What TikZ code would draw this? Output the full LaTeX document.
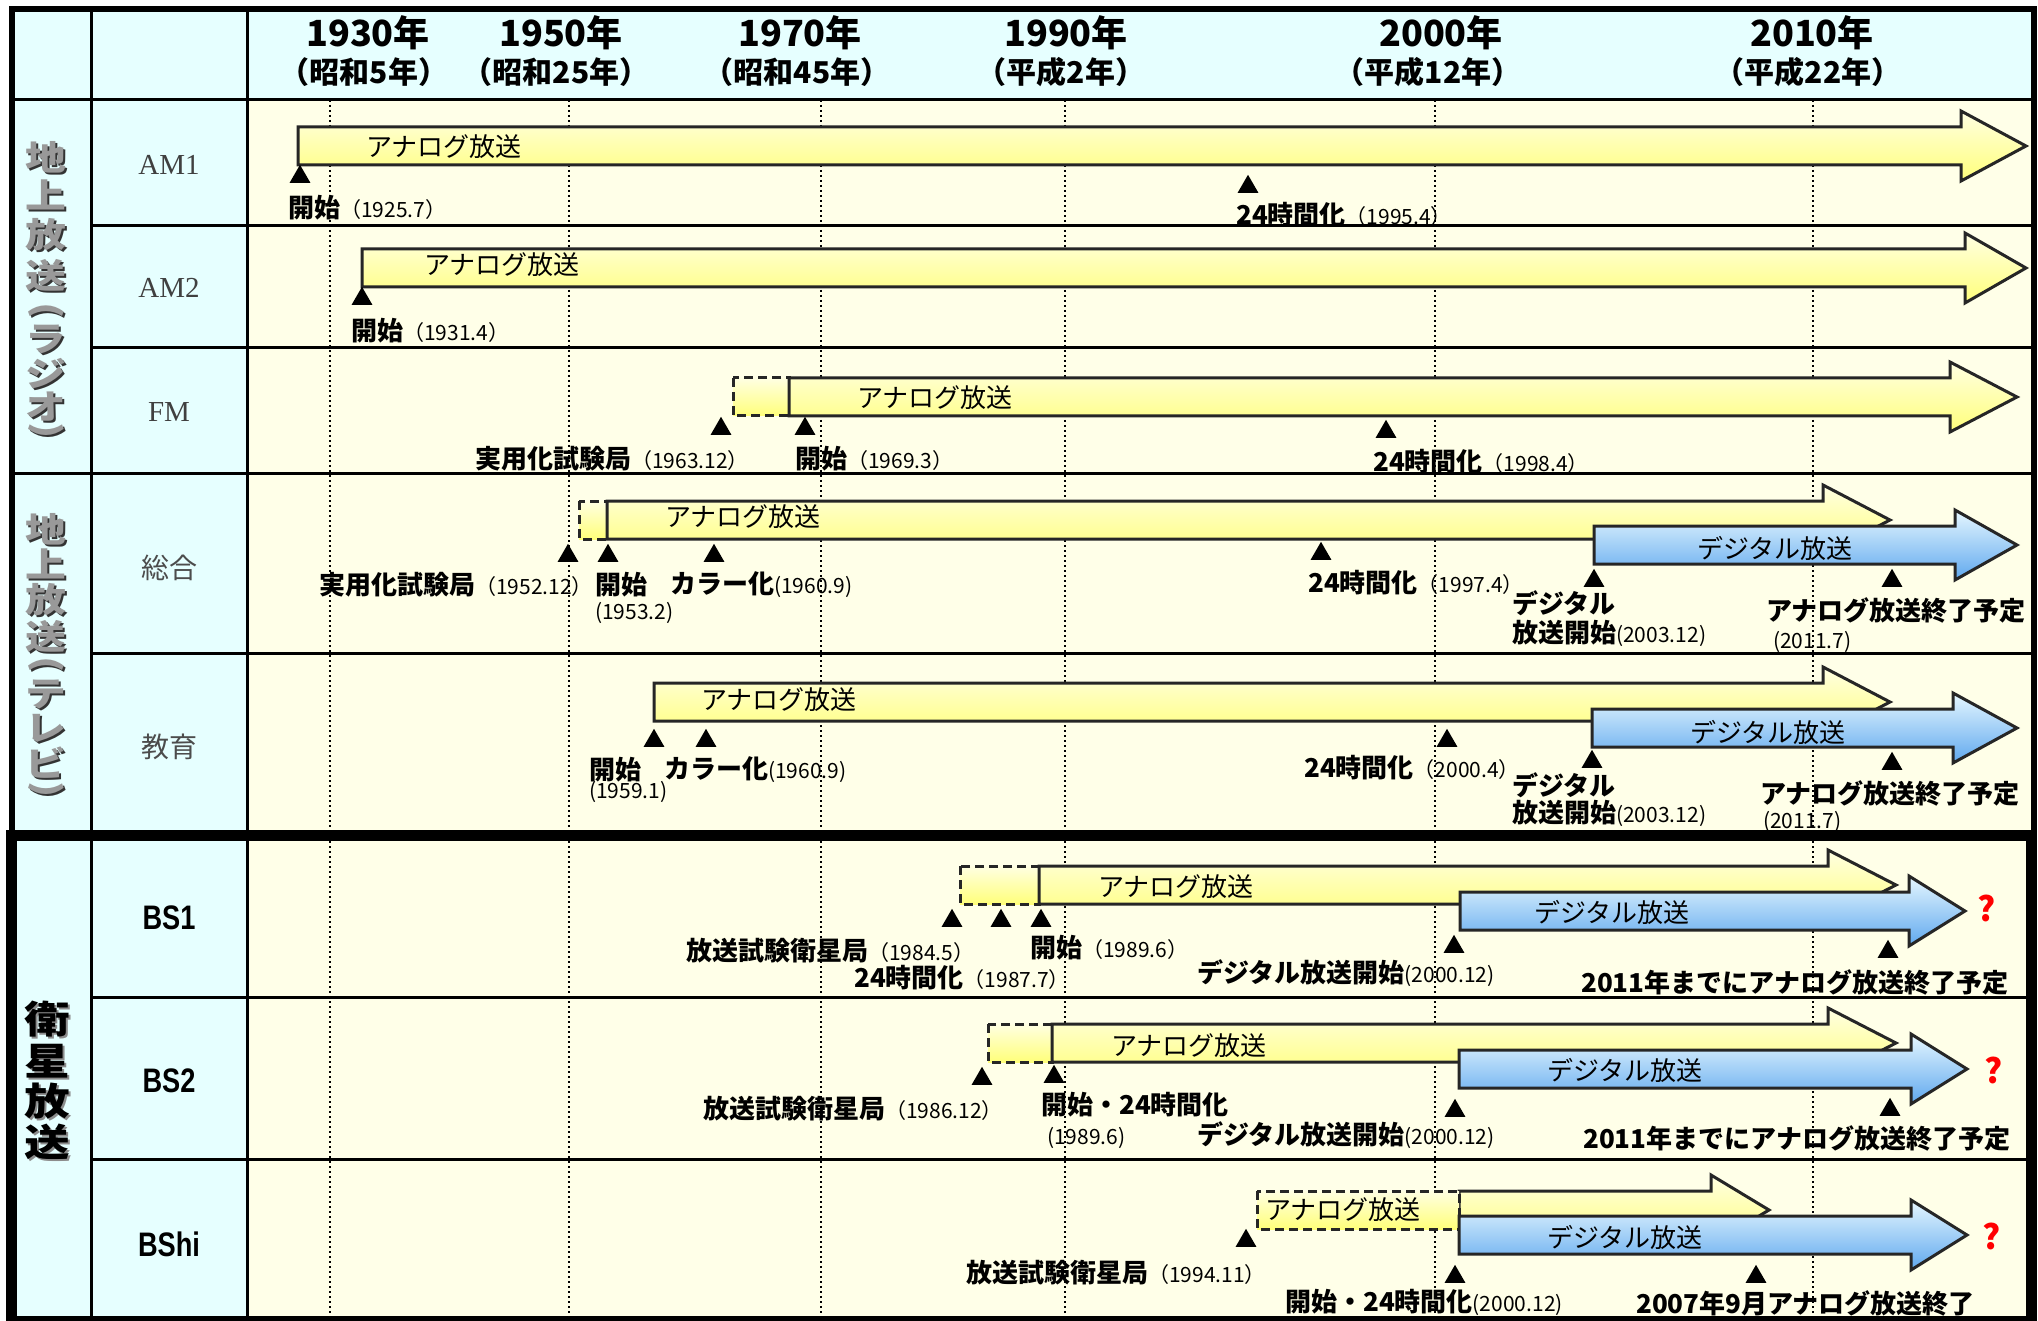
\documentclass[tikz,border=0pt]{standalone}
\usepackage{fontspec}
\usetikzlibrary{shapes.geometric}
\setmainfont{Noto Sans CJK JP}
\newfontfamily\wjp[FakeStretch=1.2]{Noto Sans CJK JP}
\newfontfamily\tms{Liberation Serif}
\newfontfamily\arn[FakeStretch=0.8]{Liberation Sans}
\definecolor{cell}{HTML}{E6FFFF}
\definecolor{cream}{HTML}{FFFFE8}
\definecolor{ylwA}{HTML}{FFFFE2}
\definecolor{ylwB}{HTML}{FFFF7A}
\definecolor{bluA}{HTML}{E6F7FF}
\definecolor{bluB}{HTML}{5FA8EE}
\newcommand{\lpar}{(}
\newcommand{\rpar}{)}
\newcommand{\dat}[1]{{\mdseries\fontsize{21}{24}\selectfont #1}}
\newcommand{\flow}[5]{\draw[#5] (#1,#4-19) -- (#2,#4-19) -- (#2,#4-35) -- (#3,#4) -- (#2,#4+35) -- (#2,#4+19) -- (#1,#4+19) -- cycle;}
\begin{document}
\begin{tikzpicture}[x=1pt,y=-1pt,
    lbl/.style={anchor=west,inner sep=0pt,font=\fontsize{26}{30}\selectfont\bfseries},
    tri/.style={regular polygon,regular polygon sides=3,fill=black,inner sep=0pt,minimum size=24pt,anchor=south},
    yflow/.style={line width=3pt,draw=black!85,top color=ylwA,bottom color=ylwB},
    bflow/.style={line width=3pt,draw=black!85,top color=bluA,bottom color=bluB},
    dbox/.style={line width=3pt,draw=black!85,dash pattern=on 9pt off 5pt,top color=ylwA,bottom color=ylwB},
    yearline/.style={line width=1.5pt,dash pattern=on 2pt off 3pt},
    rule/.style={line width=3pt},
    yr/.style={font=\fontsize{36}{40}\selectfont\bfseries},
    era/.style={font=\fontsize{30}{32}\selectfont\bfseries},
    inarrow/.style={inner sep=0pt,font=\fontsize{26}{30}\selectfont},
    rowtm/.style={text=black!75,font=\tms\fontsize{29}{30}\selectfont},
    rowjp/.style={text=black!70,font=\fontsize{28}{30}\selectfont},
    rowbs/.style={font=\arn\fontsize{34}{36}\selectfont\bfseries},
    vtxt/.style={font=\wjp\fontsize{34}{34}\selectfont\bfseries,inner sep=0pt},
    qm/.style={text=red,font=\fontsize{34}{34}\selectfont\bfseries}]
\useasboundingbox (0,0) rectangle (2038,1321);
\fill[cream] (12,9) rectangle (2034,1321);
\fill[cell] (12,9) rectangle (247,1321);
\fill[cell] (247,9) rectangle (2034,100);
\foreach \x in {330,569,821,1065,1435,1813} {
  \draw[yearline] (\x,100) -- (\x,829);
  \draw[yearline] (\x,841) -- (\x,1321);
}
\draw[rule] (12,100) -- (2034,100);
\draw[rule] (12,473) -- (2034,473);
\foreach \y in {226,348,653,997,1159} \draw[rule] (91,\y) -- (2034,\y);
\draw[rule] (91,9) -- (91,1321);
\draw[rule] (247,9) -- (247,1321);

\node[yr] (y1930) at (368,33) {1930年};
\node[era] (e1930) at (364,72) {（昭和5年）};
\node[yr] (y1950) at (561,33) {1950年};
\node[era] (e1950) at (556,72) {（昭和25年）};
\node[yr] (y1970) at (800,33) {1970年};
\node[era] (e1970) at (797,72) {（昭和45年）};
\node[yr] (y1990) at (1066,33) {1990年};
\node[era] (e1990) at (1061,72) {（平成2年）};
\node[yr] (y2000) at (1441,33) {2000年};
\node[era] (e2000) at (1428,72) {（平成12年）};
\node[yr] (y2010) at (1812,33) {2010年};
\node[era] (e2010) at (1808,72) {（平成22年）};

\foreach \c/\y/\r [count=\i] in {地/157/0,上/195/0,放/235/0,送/275/0,\lpar/311/-90,ラ/339/0,ジ/374/0,オ/407/0,\rpar/431/-90} {
  \node[vtxt,text=black!80,rotate=\r] at (48,\y+2) {\c};
  \node[vtxt,text=black!40,rotate=\r] (radio\i) at (46,\y) {\c};
}
\foreach \c/\y/\r [count=\i] in {地/529/0,上/564/0,放/600/0,送/636/0,\lpar/665/-90,テ/694/0,レ/728/0,ビ/763/0,\rpar/790/-90} {
  \node[vtxt,text=black!80,rotate=\r] at (48,\y+2) {\c};
  \node[vtxt,text=black!40,rotate=\r] (tv\i) at (46,\y) {\c};
}
\foreach \c/\y [count=\i] in {衛/1019,星/1061,放/1101,送/1142} {
  \node[vtxt,font=\wjp\fontsize{38}{38}\selectfont\bfseries,text=black!45] at (49,\y+2) {\c};
  \node[vtxt,font=\wjp\fontsize{38}{38}\selectfont\bfseries] (sat\i) at (47,\y) {\c};
}

\node[rowtm] (am1) at (169,165) {AM1};
\node[rowtm] (am2) at (169,288) {AM2};
\node[rowtm] (fm) at (169,412) {FM};
\node[rowjp] (sogo) at (169,568) {総合};
\node[rowjp] (kyoiku) at (169,747) {教育};
\node[rowbs] (bs1) at (169,918) {BS1};
\node[rowbs] (bs2) at (169,1081) {BS2};
\node[rowbs] (bshi) at (169,1244) {BShi};

\flow{298}{1961}{2026}{146}{yflow}
\flow{362}{1965}{2026}{268}{yflow}
\draw[dbox] (733,378) rectangle (789,416);
\flow{789}{1950}{2017}{397}{yflow}
\draw[dbox] (579,501) rectangle (607,539);
\flow{607}{1823}{1890}{520}{yflow}
\flow{1594}{1955}{2017}{545}{bflow}
\flow{654}{1823}{1890}{702}{yflow}
\flow{1592}{1953}{2017}{728}{bflow}
\draw[dbox] (960,866) rectangle (1039,904);
\flow{1039}{1828}{1896}{885}{yflow}
\flow{1460}{1909}{1965}{911}{bflow}
\draw[dbox] (988,1024) rectangle (1052,1062);
\flow{1052}{1828}{1896}{1043}{yflow}
\flow{1459}{1911}{1967}{1069}{bflow}
\flow{1459}{1711}{1769}{1210}{yflow}
\draw[dbox] (1257,1191) rectangle (1459,1229);
\flow{1459}{1911}{1967}{1235}{bflow}

\node[inarrow] (am1ana) at (444,147) {アナログ放送};
\node[inarrow] (am2ana) at (502,265) {アナログ放送};
\node[inarrow] (fmana) at (935,398) {アナログ放送};
\node[inarrow] (sogoana) at (743,517) {アナログ放送};
\node[inarrow] (sogodig) at (1775,548) {デジタル放送};
\node[inarrow] (kyoana) at (779,700) {アナログ放送};
\node[inarrow] (kyodig) at (1768,732) {デジタル放送};
\node[inarrow] (bs1ana) at (1176,887) {アナログ放送};
\node[inarrow] (bs1dig) at (1612,912) {デジタル放送};
\node[inarrow] (bs2ana) at (1189,1046) {アナログ放送};
\node[inarrow] (bs2dig) at (1625,1070) {デジタル放送};
\node[inarrow] (bshiana) at (1343,1210) {アナログ放送};
\node[inarrow] (bshidig) at (1625,1237) {デジタル放送};

\node[tri] (am1t1) at (300,183) {};
\node[tri] (am1t2) at (1248,193) {};
\node[tri] (am2t1) at (362,305) {};
\node[tri] (fmt1) at (721,435) {};
\node[tri] (fmt2) at (805,435) {};
\node[tri] (fmt3) at (1386,438) {};
\node[tri] (sgt1) at (568,562) {};
\node[tri] (sgt2) at (608,562) {};
\node[tri] (sgt3) at (714,562) {};
\node[tri] (sgt4) at (1321,560) {};
\node[tri] (sgt5) at (1594,587) {};
\node[tri] (sgt6) at (1892,587) {};
\node[tri] (kyt1) at (654,747) {};
\node[tri] (kyt2) at (706,747) {};
\node[tri] (kyt3) at (1447,747) {};
\node[tri] (kyt4) at (1592,768) {};
\node[tri] (kyt5) at (1892,770) {};
\node[tri] (b1t1) at (952,927) {};
\node[tri] (b1t2) at (1001,927) {};
\node[tri] (b1t3) at (1041,927) {};
\node[tri] (b1t4) at (1454,953) {};
\node[tri] (b1t5) at (1888,958) {};
\node[tri] (b2t1) at (982,1085) {};
\node[tri] (b2t2) at (1054,1083) {};
\node[tri] (b2t3) at (1455,1117) {};
\node[tri] (b2t4) at (1890,1116) {};
\node[tri] (bht1) at (1246,1247) {};
\node[tri] (bht2) at (1455,1283) {};
\node[tri] (bht3) at (1756,1283) {};

\node[lbl] (am1l1) at (288,208) {開始\dat{（1925.7）}};
\node[lbl] (am1l2) at (1236,215) {24時間化\dat{（1995.4）}};
\node[lbl] (am2l1) at (351,331) {開始\dat{（1931.4）}};
\node[lbl] (fml1) at (475,459) {実用化試験局\dat{（1963.12）}};
\node[lbl] (fml2) at (795,459) {開始\dat{（1969.3）}};
\node[lbl] (fml3) at (1373,462) {24時間化\dat{（1998.4）}};
\node[lbl] (sgl1) at (319,585) {実用化試験局\dat{（1952.12）}};
\node[lbl] (sgl2) at (595,585) {開始};
\node[lbl] (sgl2d) at (595,613) {\dat{(1953.2)}};
\node[lbl] (sgl3) at (670,585) {カラー化\dat{(1960.9)}};
\node[lbl] (sgl4) at (1308,583) {24時間化\dat{（1997.4）}};
\node[lbl] (sgl5) at (1512,603) {デジタル};
\node[lbl] (sgl5b) at (1512,633) {放送開始\dat{(2003.12)}};
\node[lbl] (sgl6) at (1766,610) {アナログ放送終了予定};
\node[lbl] (sgl6d) at (1773,642) {\dat{(2011.7)}};
\node[lbl] (kyl1) at (589,770) {開始};
\node[lbl] (kyl1d) at (589,792) {\dat{(1959.1)}};
\node[lbl] (kyl2) at (664,770) {カラー化\dat{(1960.9)}};
\node[lbl] (kyl3) at (1304,768) {24時間化\dat{（2000.4）}};
\node[lbl] (kyl4) at (1512,785) {デジタル};
\node[lbl] (kyl4b) at (1512,813) {放送開始\dat{(2003.12)}};
\node[lbl] (kyl5) at (1760,793) {アナログ放送終了予定};
\node[lbl] (kyl5d) at (1763,822) {\dat{(2011.7)}};
\node[lbl] (b1l1) at (686,951) {放送試験衛星局\dat{（1984.5）}};
\node[lbl] (b1l2) at (854,978) {24時間化\dat{（1987.7）}};
\node[lbl] (b1l3) at (1030,948) {開始\dat{（1989.6）}};
\node[lbl] (b1l4) at (1197,973) {デジタル放送開始\dat{(2000.12)}};
\node[lbl] (b1l5) at (1581,982) {2011年までにアナログ放送終了予定};
\node[lbl] (b2l1) at (703,1109) {放送試験衛星局\dat{（1986.12）}};
\node[lbl] (b2l2) at (1041,1105) {開始・24時間化};
\node[lbl] (b2l2d) at (1047,1138) {\dat{(1989.6)}};
\node[lbl] (b2l3) at (1197,1135) {デジタル放送開始\dat{(2000.12)}};
\node[lbl] (b2l4) at (1583,1138) {2011年までにアナログ放送終了予定};
\node[lbl] (bhl1) at (966,1273) {放送試験衛星局\dat{（1994.11）}};
\node[lbl] (bhl2) at (1285,1302) {開始・24時間化\dat{(2000.12)}};
\node[lbl] (bhl3) at (1636,1303) {2007年9月アナログ放送終了};

\node[qm] (q1) at (1987,908) {?};
\node[qm] (q2) at (1994,1070) {?};
\node[qm] (q3) at (1992,1236) {?};

\draw[line width=6pt] (12,9) rectangle (2034,835);
\draw[line width=11pt] (11.5,835) rectangle (2031,1321);
\end{tikzpicture}
\end{document}
